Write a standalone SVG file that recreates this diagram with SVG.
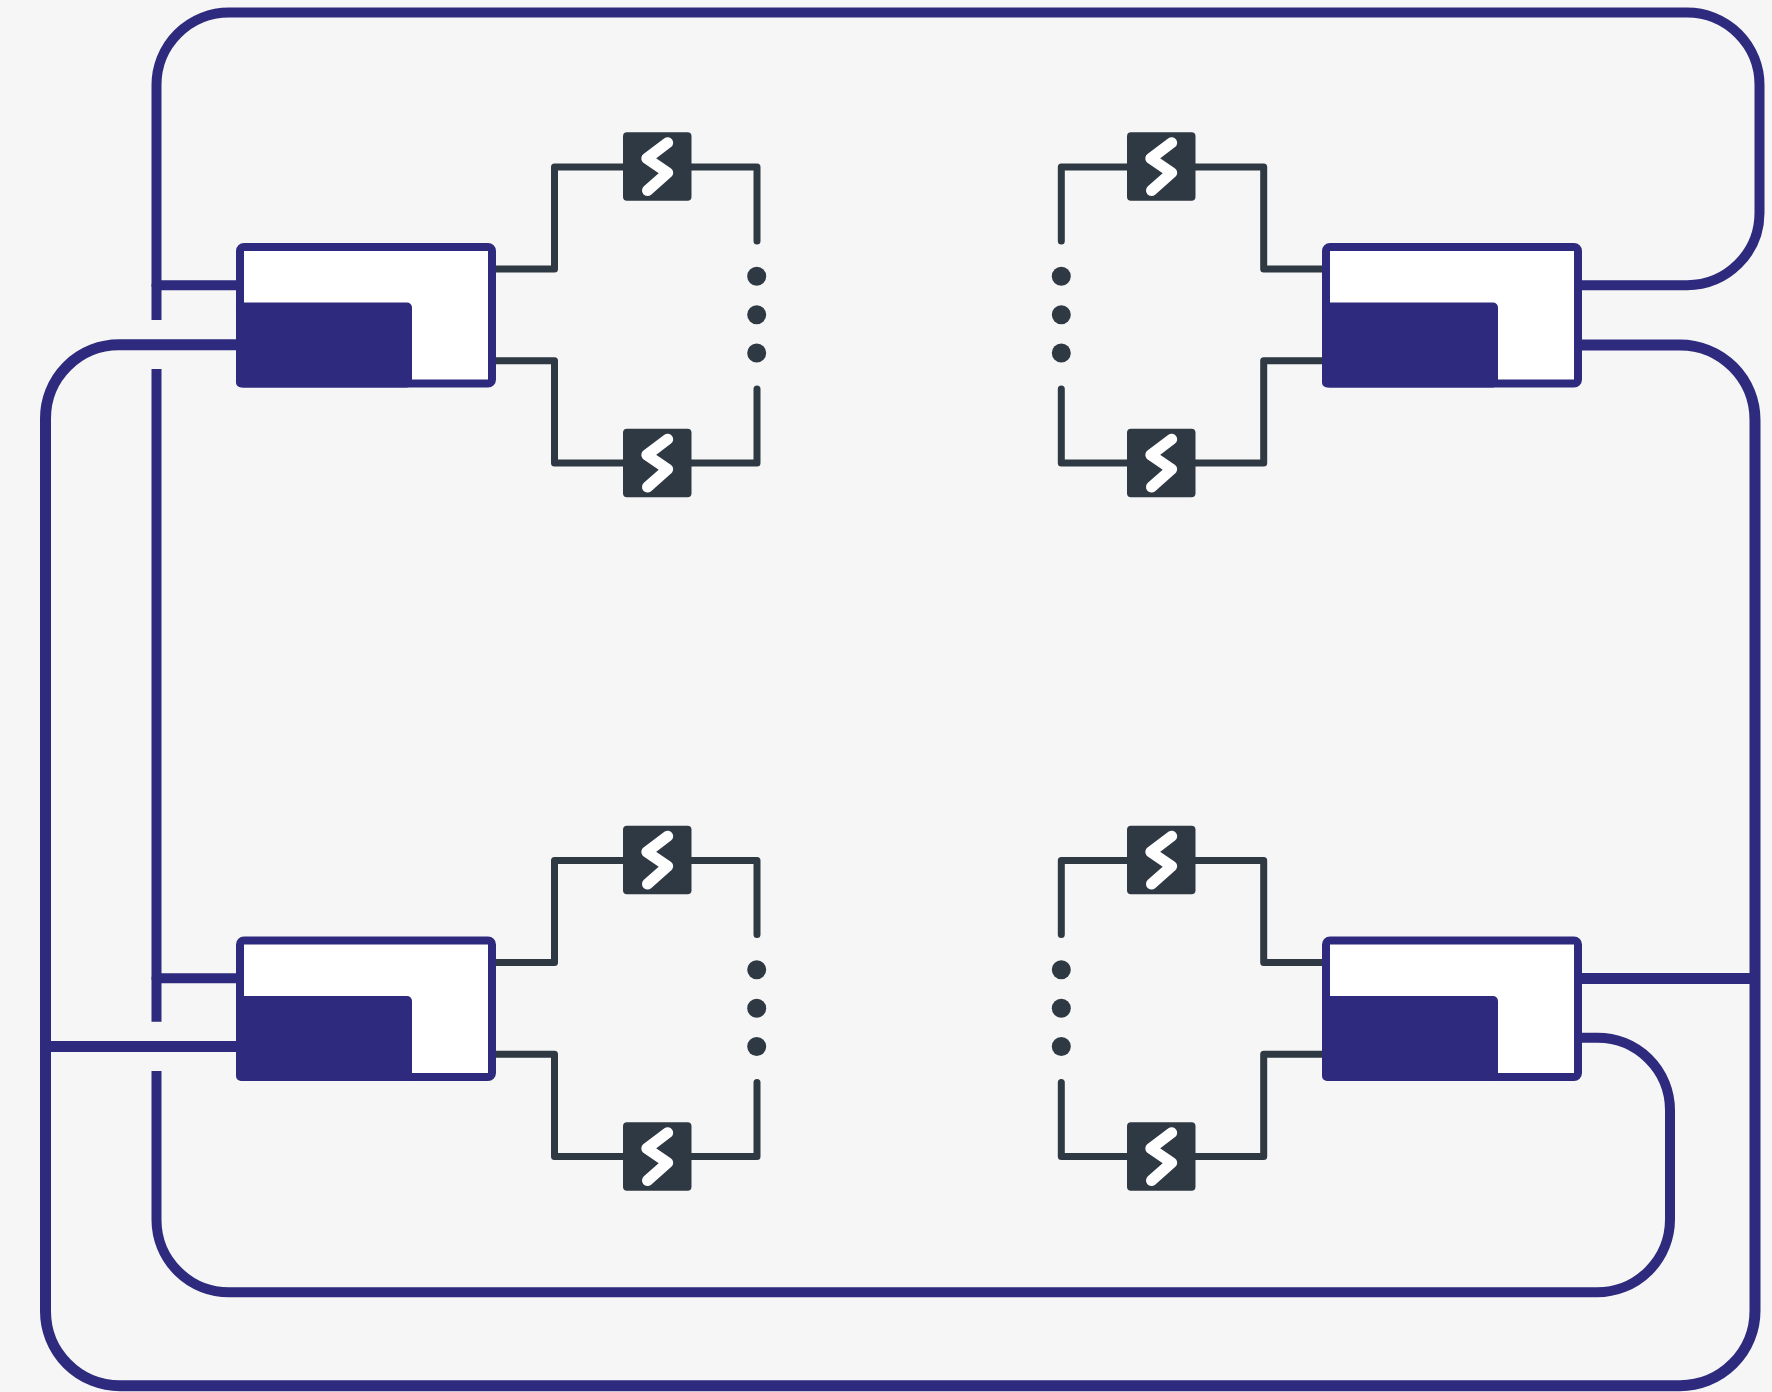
<svg xmlns="http://www.w3.org/2000/svg" xmlns:xlink="http://www.w3.org/1999/xlink" width="1772" height="1392" viewBox="0 0 1772 1392">
<style>
.b{fill:none;stroke:#2e2a7e;stroke-width:10}
.w{stroke-width:11}
.r{stroke-linecap:round}
.d{fill:none;stroke:#2f3943;stroke-width:7;stroke-linejoin:round;stroke-linecap:round}
.dot{fill:#2f3943}
.sq{fill:#2f3943}
.z{fill:none;stroke:#fff;stroke-width:11;stroke-linecap:round;stroke-linejoin:round}
.box{fill:#fff;stroke:#2e2a7e;stroke-width:8}
.solid{fill:#2e2a7e}
</style>
<defs>
<g id="ctrl"><rect class="box" x="240" y="247" width="252" height="136.500" rx="4"/><rect class="solid" x="236" y="302.500" width="176" height="85" rx="5"/></g>
<g id="sw"><rect class="sq" x="623" y="132.300" width="68.500" height="68.500" rx="4"/><path class="z" d="M667.700 142.700L646.800 158.500L667.700 172.700L647.500 190.500"/></g>
<g id="dots"><circle class="dot" cx="0" cy="276.300" r="9.500"/><circle class="dot" cx="0" cy="314.700" r="9.500"/><circle class="dot" cx="0" cy="353" r="9.500"/></g>
<path id="wl" class="d" d="M496 269H554.500V167H757V241M757 389V463H554.500V360.700H496"/>
<path id="wr" class="d" d="M1322 269H1263.700V167H1061.300V241M1061.300 389V463H1263.700V360.700H1322"/>
</defs>
<rect width="1772" height="1392" fill="#f6f6f6"/>
<g id="connectors">
<path class="b" d="M156.500 320V85A72.500 72.500 0 0 1 229 12.500H1687A72.500 72.500 0 0 1 1759.500 85V213A72.500 72.500 0 0 1 1687 285.200H1580"/>
<path class="b r" d="M156.500 285.200H238"/>
<path class="b w" d="M238 344.800H119A73.500 73.500 0 0 0 45.500 418.300V1311A74.500 74.500 0 0 0 120 1385.700H1680A75 75 0 0 0 1755 1310.700V420A75 75 0 0 0 1680 345H1580"/>
<path class="b" d="M156.500 369V1021.700M156.500 1071V1220A72.500 72.500 0 0 0 229 1292.300H1597A73 73 0 0 0 1670 1219.300V1110A72.500 72.500 0 0 0 1597.500 1037.700H1580"/>
<path class="b r" d="M156.500 978.300H238"/>
<path class="b w" d="M45.500 1046.500H238"/>
<path class="b w" d="M1580 978.500H1755"/>
<use href="#wl"/>
<use href="#wr"/>
<use href="#wl" y="693.500"/>
<use href="#wr" y="693.500"/>
</g>
<g id="dots-tl"><use href="#dots" x="756.700"/></g>
<g id="dots-tr"><use href="#dots" x="1061.300"/></g>
<g id="dots-bl"><use href="#dots" x="756.700" y="693.500"/></g>
<g id="dots-br"><use href="#dots" x="1061.300" y="693.500"/></g>
<g id="switch-tl-1"><use href="#sw"/></g>
<g id="switch-tl-2"><use href="#sw" y="296.500"/></g>
<g id="switch-tr-1"><use href="#sw" x="504"/></g>
<g id="switch-tr-2"><use href="#sw" x="504" y="296.500"/></g>
<g id="switch-bl-1"><use href="#sw" y="693.500"/></g>
<g id="switch-bl-2"><use href="#sw" y="990"/></g>
<g id="switch-br-1"><use href="#sw" x="504" y="693.500"/></g>
<g id="switch-br-2"><use href="#sw" x="504" y="990"/></g>
<g id="node-tl"><use href="#ctrl"/></g>
<g id="node-tr"><use href="#ctrl" x="1086"/></g>
<g id="node-bl"><use href="#ctrl" y="693.500"/></g>
<g id="node-br"><use href="#ctrl" x="1086" y="693.500"/></g>
</svg>
